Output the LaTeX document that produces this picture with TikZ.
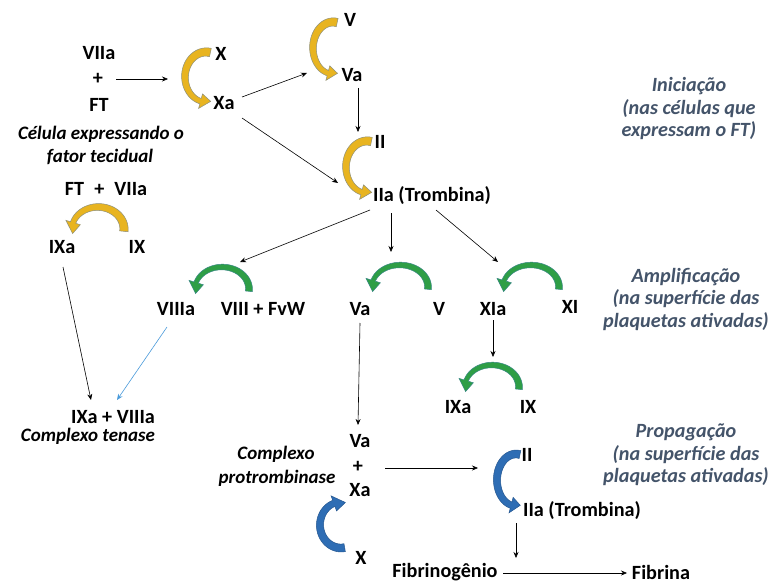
\documentclass[tikz,border=0pt]{standalone}
\usepackage{fontspec}
\setmainfont{Carlito}
\usetikzlibrary{arrows.meta}
\definecolor{gold}{HTML}{E8B420}
\definecolor{grn}{HTML}{2E9E46}
\definecolor{blu}{HTML}{2E6DB4}
\definecolor{lblu}{HTML}{4A9BDB}
\definecolor{phasec}{HTML}{44546A}
\definecolor{arcedge}{HTML}{4472C4}
\tikzset{
 lbl/.style={font=\fontsize{20.2}{22}\selectfont\bfseries, inner sep=1pt},
 ilbl/.style={font=\fontsize{19}{22}\selectfont\bfseries\itshape, inner sep=1pt},
 phasetxt/.style={font=\fontsize{20.2}{22.5}\selectfont\bfseries\itshape, text=phasec, align=center, inner sep=0pt},
 arr/.style={-{Stealth[length=6pt,width=5pt]}, line width=0.6pt},
 goldarc/.style={fill=gold, draw=arcedge!55!gold, line width=0.5pt},
 grnarc/.style={fill=grn, draw=arcedge!50!grn, line width=0.5pt},
 bluarc/.style={fill=blu, draw=blu!80!black, line width=0.5pt},
}
% cx cy rx ry t-tail t-headbase t-tip style
\newcommand{\cvarrow}[8]{%
  \def\cvcx{#1}\def\cvcy{#2}\def\cvrx{#3}\def\cvry{#4}\def\cvta{#5}\def\cvtb{#6}\def\cvtc{#7}%
  \path[#8] plot[domain=\cvta:\cvtb, samples=40, variable=\t]
     ({\cvcx+(\cvrx+0.5*(\cvwa+(\cvwb-\cvwa)*(\t-\cvta)/(\cvtb-\cvta)))*cos(\t)},
      {\cvcy+(\cvry+0.5*(\cvwa+(\cvwb-\cvwa)*(\t-\cvta)/(\cvtb-\cvta)))*sin(\t)})
   -- ({\cvcx+(\cvrx+\cvhh)*cos(\cvtb)},{\cvcy+(\cvry+\cvhh)*sin(\cvtb)})
   -- ({\cvcx+\cvrx*cos(\cvtc)},{\cvcy+\cvry*sin(\cvtc)})
   -- ({\cvcx+(\cvrx-\cvhh)*cos(\cvtb)},{\cvcy+(\cvry-\cvhh)*sin(\cvtb)})
   -- plot[domain=\cvtb:\cvta, samples=40, variable=\t]
     ({\cvcx+(\cvrx-0.5*(\cvwa+(\cvwb-\cvwa)*(\t-\cvta)/(\cvtb-\cvta)))*cos(\t)},
      {\cvcy+(\cvry-0.5*(\cvwa+(\cvwb-\cvwa)*(\t-\cvta)/(\cvtb-\cvta)))*sin(\t)})
   -- cycle;}
\begin{document}
\begin{tikzpicture}[x=1pt,y=-1pt]
\fill[white] (0,0) rectangle (771,583);
\useasboundingbox (0,0) rectangle (771,583);

% ---------- text nodes ----------
\node[lbl] (viia) at (99,53) {VIIa};
\node[lbl] (plus1) at (98,79) {+};
\node[lbl] (ft) at (99,105) {FT};
\node[lbl] (x1) at (221,54) {X};
\node[lbl] (xa1) at (224,103) {Xa};
\node[ilbl] (cel1) at (101,134) {Célula expressando o};
\node[ilbl] (cel2) at (100,157) {fator tecidual};
\node[lbl] (ftviia) at (106,189) {FT\enspace+\enspace VIIa};
\node[lbl] (ixa1) at (62,247) {IXa};
\node[lbl] (ix1) at (137,247) {IX};
\node[lbl] (v1) at (350,20) {V};
\node[lbl] (va1) at (352,75) {Va};
\node[lbl] (ii1) at (380,142) {II};
\node[lbl] (iia1) at (432,196) {IIa (Trombina)};
\node[lbl] (viiia) at (176,309) {VIIIa};
\node[lbl] (viiifvw) at (263,309) {VIII + FvW};
\node[lbl] (va2) at (360,309) {Va};
\node[lbl] (v2) at (439,309) {V};
\node[lbl] (xia) at (493,309) {XIa};
\node[lbl] (xi) at (570,307) {XI};
\node[lbl] (ixa2) at (458,407) {IXa};
\node[lbl] (ix2) at (528,407) {IX};
\node[lbl] (ten1) at (113,417) {IXa + VIIIa};
\node[ilbl] (ten2) at (88,436) {Complexo tenase};
\node[lbl] (va3) at (360,441) {Va};
\node[lbl] (plus2) at (358,467) {+};
\node[lbl] (xa3) at (360,490) {Xa};
\node[ilbl] (cp1) at (276,454) {Complexo};
\node[ilbl] (cp2) at (277,478) {protrombinase};
\node[lbl] (x3) at (361,558) {X};
\node[lbl] (ii2) at (527,455) {II};
\node[lbl] (iia2) at (582,511) {IIa (Trombina)};
\node[lbl] (fgen) at (445,572) {Fibrinogênio};
\node[lbl] (fina) at (661,572) {Fibrina};

\node[phasetxt] (ph1) at (689,109) {Iniciação\\(nas células que\\expressam o FT)};
\node[phasetxt] (ph2) at (686,299) {Amplificação\\(na superfície das\\plaquetas ativadas)};
\node[phasetxt] (ph3) at (686,455) {Propagação\\(na superfície das\\plaquetas ativadas)};

% ---------- curved arrows ----------
\def\cvwa{8.5}\def\cvwb{5.5}\def\cvhh{7.5}
\cvarrow{206}{77}{21}{25}{-78}{-255}{-283}{goldarc}
\cvarrow{333}{48}{20}{26}{-78}{-255}{-283}{goldarc}
\cvarrow{367}{167}{21}{26}{-78}{-255}{-283}{goldarc}
\cvarrow{98}{229}{26}{22}{6}{-163}{-192}{goldarc}
\def\cvwa{7}\def\cvwb{4.5}\def\cvhh{7.5}
\cvarrow{222}{289}{27}{22}{6}{-163}{-192}{grnarc}
\cvarrow{400}{287}{28}{22}{6}{-163}{-192}{grnarc}
\cvarrow{531}{287}{28}{22}{6}{-163}{-192}{grnarc}
\cvarrow{492}{387}{27}{22}{6}{-163}{-192}{grnarc}
\def\cvwa{8}\def\cvwb{6.5}\def\cvhh{8}
\cvarrow{341}{525}{21}{23}{80}{250}{282}{bluarc}
\cvarrow{516}{480}{19}{26}{-78}{-255}{-283}{bluarc}

% ---------- connector end points ----------
\coordinate (toX) at (168,79);
\coordinate (plusout) at (116,79);
\coordinate (xaoutA) at (242,97);
\coordinate (toV) at (307,73);
\coordinate (xaoutB) at (242,118);
\coordinate (toII) at (338,183);
\coordinate (vaout) at (358,88);
\coordinate (toIIb) at (358,132);
\coordinate (iiaoutL) at (370,210);
\coordinate (toVIII) at (240,262);
\coordinate (iiaoutM) at (391,213);
\coordinate (toV2) at (391,252);
\coordinate (iiaoutR) at (436,210);
\coordinate (toXI) at (498,262);
\coordinate (ixaout) at (63,267);
\coordinate (toten1) at (91,400);
\coordinate (viiiaout) at (167,327);
\coordinate (toten2) at (117,400);
\coordinate (xiaout) at (493,320);
\coordinate (toIX) at (493,357);
\coordinate (va2out) at (360,323);
\coordinate (tova3) at (358,425);
\coordinate (plus2out) at (385,468);
\coordinate (toII2) at (478,468);
\coordinate (iia2out) at (516,523);
\coordinate (tofgen) at (516,558);
\coordinate (fgenout) at (503,573);
\coordinate (tofina) at (627,573);

\draw[arr] (plusout) -- (toX);
\draw[arr] (xaoutA) -- (toV);
\draw[arr] (xaoutB) -- (toII);
\draw[arr] (vaout) -- (toIIb);
\draw[arr] (iiaoutL) -- (toVIII);
\draw[arr] (iiaoutM) -- (toV2);
\draw[arr] (iiaoutR) -- (toXI);
\draw[arr] (ixaout) -- (toten1);
\draw[arr, draw=lblu] (viiiaout) -- (toten2);
\draw[arr] (xiaout) -- (toIX);
\draw[arr] (va2out) -- (tova3);
\draw[arr] (plus2out) -- (toII2);
\draw[arr] (iia2out) -- (tofgen);
\draw[arr] (fgenout) -- (tofina);
\end{tikzpicture}
\end{document}
